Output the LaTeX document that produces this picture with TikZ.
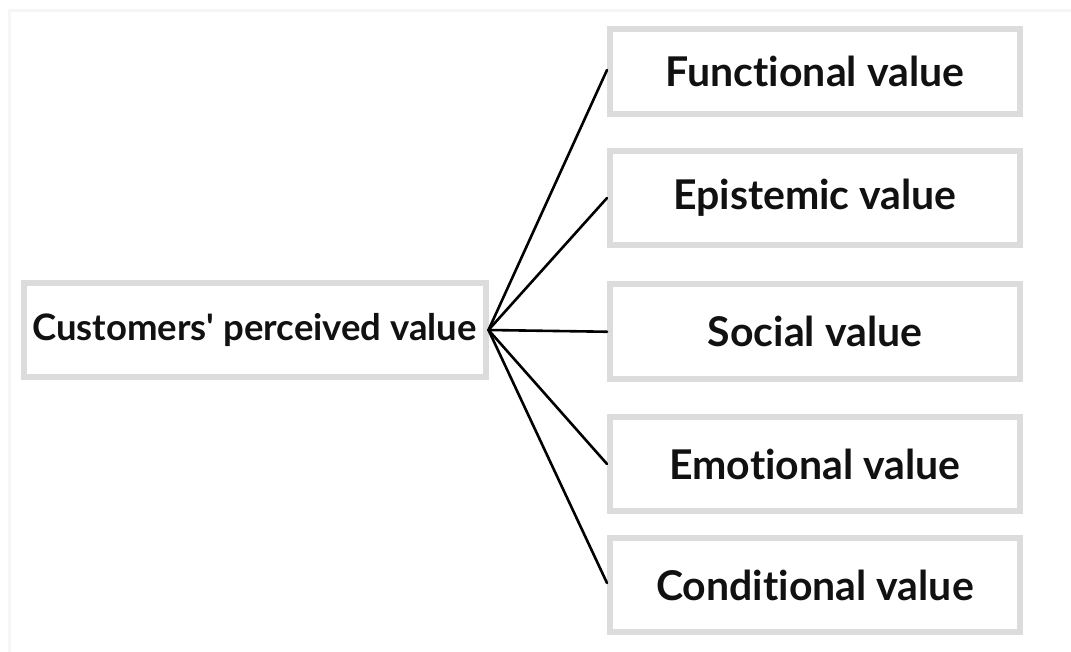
\documentclass[tikz,border=0pt]{standalone}
\usepackage{fontspec}
\setmainfont{Lato}[Ligatures={NoCommon}]
\newcommand{\straightquote}{\XeTeXglyph\XeTeXcharglyph"27\relax}
\definecolor{boxgray}{HTML}{DCDCDC}
\definecolor{framegray}{HTML}{F5F6F6}
\definecolor{txt}{HTML}{111111}
\begin{document}
\begin{tikzpicture}[x=1pt,y=-1pt,
  vbox/.style={draw=boxgray, line width=6pt, fill=white, outer sep=3pt, inner sep=0pt,
    text=txt, font=\fontsize{41}{46}\selectfont\bfseries, minimum width=410pt},
  conn/.style={draw=black, line width=2.6pt, line cap=round}]
\useasboundingbox (0,0) rectangle (1071,652);
\draw[framegray, line width=3pt] (9,652) -- (9,11) -- (1071,11);
\node[vbox, minimum width=462pt, minimum height=94pt, font=\fontsize{36.5}{41}\selectfont\bfseries] (L) at (254.5,330) {Customers\straightquote{} perceived value};
\node[vbox, minimum height=85pt] (F) at (815,71.5) {Functional value};
\node[vbox, minimum height=94pt] (E) at (815,198) {Epistemic value};
\node[vbox, minimum height=94.5pt] (S) at (815,331.75) {Social value};
\node[vbox, minimum height=94pt] (M) at (815,464) {Emotional value};
\node[vbox, minimum height=94pt] (C) at (815,585) {Conditional value};
\coordinate (hub) at (L.east);
\draw[conn] (hub) -- (F.west |- 0,70);
\draw[conn] (hub) -- (E.west);
\draw[conn] (hub) -- (S.west);
\draw[conn] (hub) -- (M.west);
\draw[conn] (hub) -- (C.west |- 0,583);
\end{tikzpicture}
\end{document}
